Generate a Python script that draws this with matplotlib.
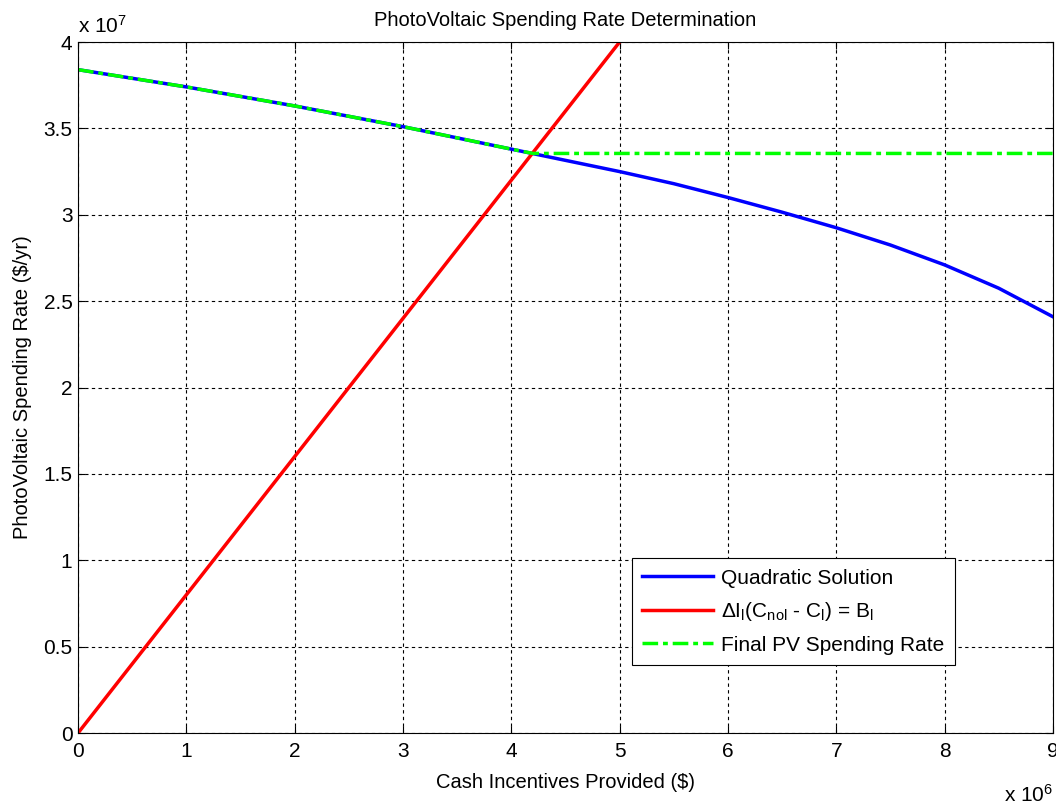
import matplotlib
matplotlib.use('Agg')
import matplotlib.pyplot as plt
from matplotlib.ticker import FuncFormatter, MultipleLocator

# Quadratic solution (blue)
quad_x = [0, 0.5e6, 1e6, 1.5e6, 2e6, 2.5e6, 3e6, 3.5e6, 4e6, 4.5e6, 5e6,
          5.5e6, 6e6, 6.5e6, 7e6, 7.5e6, 8e6, 8.5e6, 9e6]
quad_y = [3.84e7, 3.79e7, 3.74e7, 3.685e7, 3.63e7, 3.57e7, 3.51e7, 3.445e7,
          3.38e7, 3.315e7, 3.25e7, 3.18e7, 3.10e7, 3.015e7, 2.925e7, 2.825e7,
          2.71e7, 2.575e7, 2.41e7]

# budget line (red)
budget_x = [0, 5e6]
budget_y = [0, 4e7]

# final PV spending rate (green)
final_x = [0, 0.5e6, 1e6, 1.5e6, 2e6, 2.5e6, 3e6, 3.5e6, 4e6, 4.2e6, 9e6]
final_y = [3.84e7, 3.79e7, 3.74e7, 3.685e7, 3.63e7, 3.57e7, 3.51e7, 3.445e7,
           3.38e7, 3.355e7, 3.355e7]

plt.rcParams['font.family'] = ['Liberation Sans', 'DejaVu Sans']
plt.rcParams['mathtext.fontset'] = 'custom'
plt.rcParams['mathtext.rm'] = 'Liberation Sans'
plt.rcParams['mathtext.it'] = 'Liberation Sans'

fig = plt.figure(figsize=(10.56, 8.08), dpi=100)
ax = fig.add_axes([0.0739, 0.0928, 0.9231, 0.8552])

ax.plot(quad_x, quad_y, color='#0000ff', lw=2.5, label='Quadratic Solution')
ax.plot(budget_x, budget_y, color='#ff0000', lw=2.5,
        label=r'$\Delta$I$_\mathrm{l}$(C$_\mathrm{nol}$ - C$_\mathrm{l}$) = B$_\mathrm{l}$')
ax.plot(final_x, final_y, color='#00ff00', lw=2.5, ls=(0, (4.5, 1.4, 1.4, 1.4)),
        label='Final PV Spending Rate')

ax.set_xlim(0, 9e6)
ax.set_ylim(0, 4e7)
ax.xaxis.set_major_locator(MultipleLocator(1e6))
ax.yaxis.set_major_locator(MultipleLocator(0.5e7))
ax.xaxis.set_major_formatter(FuncFormatter(lambda v, p: '%g' % (v / 1e6)))
ax.yaxis.set_major_formatter(FuncFormatter(lambda v, p: '%g' % (v / 1e7)))
ax.tick_params(direction='in', top=True, right=True, labelsize=15, length=5)
ax.tick_params(axis='x', pad=6.5)
ax.tick_params(axis='y', pad=4)
ax.grid(True, color='black', ls=(0, (3, 3)), lw=0.8)

ax.set_title('PhotoVoltaic Spending Rate Determination', fontsize=14.5, pad=11.5)
ax.set_xlabel('Cash Incentives Provided ($)', fontsize=14.5, labelpad=8.5)
ax.set_ylabel('PhotoVoltaic Spending Rate ($/yr)', fontsize=14.5, labelpad=8)

fig.text(0.074, 0.960, r'x 10$^{7}$', fontsize=15, ha='left', va='baseline')
fig.text(0.997, 0.0074, r'x 10$^{6}$', fontsize=15, ha='right', va='baseline')

leg = ax.legend(loc='lower right', bbox_to_anchor=(0.8995, 0.0984), fontsize=15,
                fancybox=False, framealpha=1, edgecolor='black', borderaxespad=0,
                handlelength=3.4, handletextpad=0.4, borderpad=0.5,
                labelspacing=0.6)
leg.get_frame().set_linewidth(0.8)

fig.savefig('out.png', dpi=100)
